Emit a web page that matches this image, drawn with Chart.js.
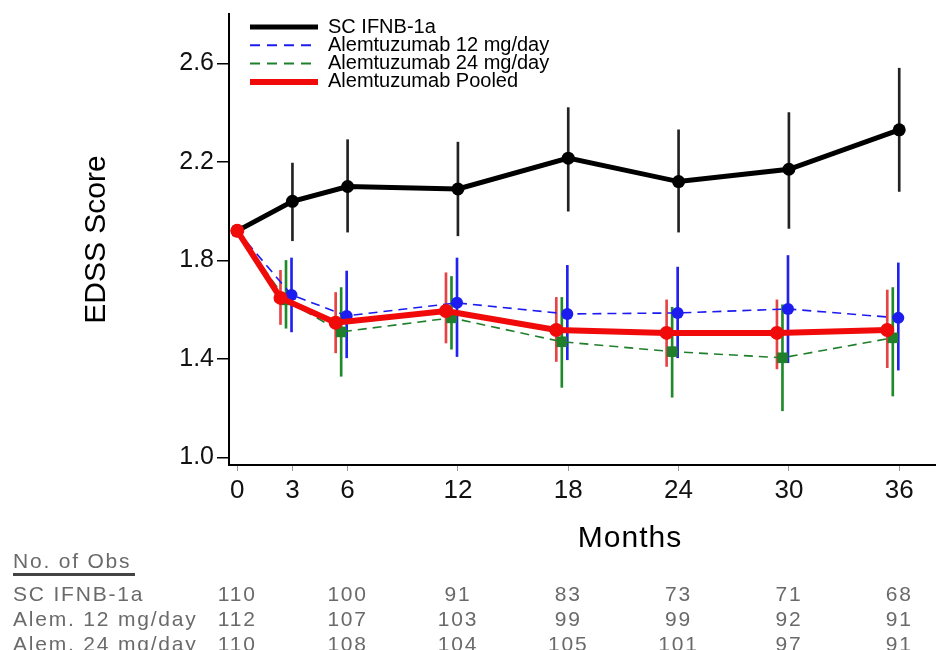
<!DOCTYPE html>
<html lang="en">
<head>
  <meta charset="UTF-8">
  <title>EDSS Score - Months</title>
  <script src="https://cdn.jsdelivr.net/npm/chart.js"></script>
  <style>
    html, body { margin: 0; padding: 0; background: #fff; overflow: hidden; }
    canvas { display: block; }
  </style>
</head>
<body>
<canvas id="edssChart" width="936" height="650"></canvas>
<script>
// visits (months) and axis ticks
const months = [0, 3, 6, 12, 18, 24, 30, 36];
const xTicks = [0, 3, 6, 12, 18, 24, 30, 36];
const yTicks = [1.0, 1.4, 1.8, 2.2, 2.6];

// mean EDSS and error bar ends, per group
const ifnbMean   = [1.92, 2.04, 2.10, 2.09, 2.215, 2.12, 2.17, 2.33];
const ifnbLow    = [null, 1.88, 1.915, 1.90, 2.00, 1.915, 1.93, 2.08];
const ifnbHigh   = [null, 2.195, 2.29, 2.28, 2.42, 2.33, 2.40, 2.58];

const alem12Mean = [1.92, 1.66, 1.575, 1.628, 1.583, 1.587, 1.603, 1.567];
const alem12Low  = [null, 1.51, 1.405, 1.41, 1.397, 1.405, 1.385, 1.355];
const alem12High = [null, 1.81, 1.757, 1.81, 1.78, 1.773, 1.82, 1.79];

const alem24Mean = [1.92, 1.64, 1.51, 1.567, 1.47, 1.43, 1.405, 1.486];
const alem24Low  = [null, 1.525, 1.33, 1.44, 1.285, 1.245, 1.19, 1.25];
const alem24High = [null, 1.80, 1.69, 1.735, 1.65, 1.61, 1.62, 1.69];

const pooledMean = [1.92, 1.648, 1.547, 1.595, 1.518, 1.506, 1.506, 1.518];
const pooledLow  = [null, 1.54, 1.425, 1.465, 1.39, 1.37, 1.36, 1.365];
const pooledHigh = [null, 1.76, 1.67, 1.75, 1.65, 1.64, 1.64, 1.68];

// No. of Obs table
const obsMonths = [0, 6, 12, 18, 24, 30, 36];
const obsRows = ['SC IFNB-1a', 'Alem. 12 mg/day', 'Alem. 24 mg/day'];
const obsIfnb   = [110, 100, 91, 83, 73, 71, 68];
const obsAlem12 = [112, 107, 103, 99, 99, 92, 91];
const obsAlem24 = [110, 108, 104, 105, 101, 97, 91];

const FONT = '"Liberation Sans", Arial, sans-serif';
Chart.defaults.font.family = FONT;
Chart.defaults.color = '#111';

// small side shift so the groups don't sit on top of each other
function shifted(dx) {
  return months.map(m => m === 0 ? 0 : m + dx);
}
function pts(xs, ys) {
  return xs.map((x, i) => ({ x: x, y: ys[i] }));
}
function bars(xs, lo, hi) {
  const out = [];
  xs.forEach((x, i) => { if (lo[i] != null) out.push({ x: x, y: [lo[i], hi[i]] }); });
  return out;
}

const xIfnb = shifted(0), x12 = shifted(-0.05), x24 = shifted(-0.35), xPool = shifted(-0.65);

function errorBars(label, xs, lo, hi, color) {
  return {
    type: 'bar', label: label, data: bars(xs, lo, hi),
    backgroundColor: color, borderWidth: 0, barThickness: 2,
    grouped: false, order: 10
  };
}

const datasets = [
  {
    type: 'line', label: 'SC IFNB-1a', data: pts(xIfnb, ifnbMean),
    borderColor: '#000', backgroundColor: '#000', borderWidth: 5,
    pointRadius: 6.5, pointBackgroundColor: '#000', pointBorderWidth: 0, order: 1
  },
  {
    type: 'line', label: 'Alemtuzumab 12 mg/day', data: pts(x12, alem12Mean),
    borderColor: '#1c1cf0', backgroundColor: '#1c1cf0', borderWidth: 1.6, borderDash: [9, 6],
    pointRadius: 6, pointBackgroundColor: '#1c1cf0', pointBorderWidth: 0, order: 2
  },
  {
    type: 'line', label: 'Alemtuzumab 24 mg/day', data: pts(x24, alem24Mean),
    borderColor: '#1f7f2a', backgroundColor: '#1f7f2a', borderWidth: 1.6, borderDash: [9, 6],
    pointRadius: 7.5, pointStyle: 'rect', pointBackgroundColor: '#1f7f2a', pointBorderWidth: 0, order: 3
  },
  {
    type: 'line', label: 'Alemtuzumab Pooled', data: pts(xPool, pooledMean),
    borderColor: '#f00a0a', backgroundColor: '#f00a0a', borderWidth: 6,
    pointRadius: 7, pointBackgroundColor: '#f00a0a', pointBorderWidth: 0, order: 0
  },
  errorBars('ifnb err', xIfnb, ifnbLow, ifnbHigh, '#222'),
  errorBars('12 err', x12, alem12Low, alem12High, '#2222ee'),
  errorBars('24 err', x24, alem24Low, alem24High, '#1f8a2a'),
  errorBars('pooled err', xPool, pooledLow, pooledHigh, 'rgba(225,20,20,0.8)')
];

// legend, "Months" title and the No. of Obs table
const extras = {
  id: 'extras',
  afterDraw(chart) {
    const ctx = chart.ctx;
    const xs = chart.scales.x;
    ctx.save();

    // legend inside the plot
    const lines = chart.data.datasets.filter(d => d.type === 'line');
    lines.forEach((d, i) => {
      const y = 27 + i * 18.3;
      ctx.strokeStyle = d.borderColor;
      ctx.lineWidth = d.borderDash ? 2 : d.borderWidth;
      ctx.setLineDash(d.borderDash ? [10, 7] : []);
      ctx.beginPath();
      ctx.moveTo(250, y);
      ctx.lineTo(318, y);
      ctx.stroke();
      ctx.setLineDash([]);
      ctx.fillStyle = '#000';
      ctx.font = '20px ' + FONT;
      ctx.textAlign = 'left';
      ctx.textBaseline = 'middle';
      ctx.fillText(d.label, 328, y);
    });

    // x axis title
    ctx.fillStyle = '#000';
    ctx.font = '30px ' + FONT;
    ctx.letterSpacing = '1px';
    ctx.textAlign = 'center';
    ctx.textBaseline = 'middle';
    ctx.fillText('Months', 630, 539);

    // table
    ctx.fillStyle = '#6a6a6a';
    ctx.font = '21px ' + FONT;
    ctx.letterSpacing = '1.8px';
    ctx.textAlign = 'left';
    ctx.fillText('No. of Obs', 13, 562);
    ctx.fillStyle = '#444';
    ctx.fillRect(13, 573, 122, 3);
    ctx.fillStyle = '#6a6a6a';
    const rows = [obsIfnb, obsAlem12, obsAlem24];
    rows.forEach((vals, r) => {
      const y = 595 + r * 25;
      ctx.textAlign = 'left';
      ctx.fillText(obsRows[r], 13, y);
      ctx.textAlign = 'center';
      vals.forEach((v, j) => ctx.fillText(String(v), xs.getPixelForValue(obsMonths[j]), y));
    });
    ctx.restore();
  }
};

new Chart(document.getElementById('edssChart'), {
  type: 'line',
  data: { datasets: datasets },
  options: {
    responsive: false,
    animation: false,
    layout: { autoPadding: false, padding: { top: 14, right: 0, left: 0, bottom: 0 } },
    plugins: { legend: { display: false }, tooltip: { enabled: false } },
    scales: {
      x: {
        type: 'linear', min: -0.45, max: 38, offset: false,
        afterBuildTicks: s => { s.ticks = xTicks.map(v => ({ value: v })); },
        afterFit: s => { s.height = 185; s.paddingLeft = 0; s.paddingRight = 0; },
        ticks: { font: { size: 26 }, color: '#111', padding: 4, autoSkip: false, maxRotation: 0, callback: v => v },
        grid: { drawOnChartArea: false, offset: false, tickLength: 6, color: '#999', lineWidth: 1 },
        border: { color: '#000', width: 2 }
      },
      y: {
        min: 0.97, max: 2.8,
        afterBuildTicks: s => { s.ticks = yTicks.map(v => ({ value: v })); },
        afterFit: s => { s.width = 229; s.paddingTop = 0; s.paddingBottom = 0; },
        ticks: { font: { size: 25 }, color: '#111', padding: 3, callback: v => v.toFixed(1) },
        grid: { drawOnChartArea: false, offset: false, tickLength: 12, color: '#000', lineWidth: 1.5 },
        border: { color: '#000', width: 2 },
        title: { display: true, text: 'EDSS Score', font: { size: 30 }, color: '#000', padding: { top: 79, bottom: 0 } }
      }
    }
  },
  plugins: [extras]
});
</script>
</body>
</html>
